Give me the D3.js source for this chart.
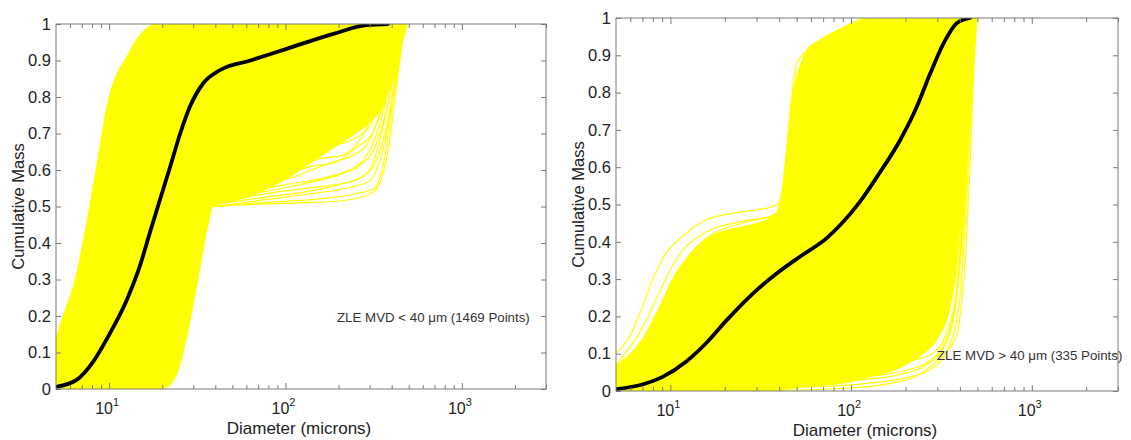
<!DOCTYPE html>
<html>
<head>
<meta charset="utf-8">
<script src="https://cdn.jsdelivr.net/npm/d3@7"></script>
<style>
  body { margin: 0; background: #fff; }
  svg { font-family: "Liberation Sans", Arial, sans-serif; }
</style>
</head>
<body>
<svg id="chart" width="1131" height="440"></svg>
<script>
// ---- data ----
// left panel: ZLE MVD < 40 um
const leftEnvDiam = [5, 5.5, 6.5, 7.5, 8.5, 10, 11, 12.6, 14, 15.6, 18.7, 20, 22, 25, 28, 32.7, 36, 38.8, 40, 46, 60, 80, 100, 150, 200, 250, 300, 340, 380, 420, 460, 490];
const leftEnvLow  = [0, 0, 0, 0, 0, 0, 0, 0, 0, 0, 0, 0, 0.01, 0.06, 0.16, 0.33, 0.44, 0.5, 0.503, 0.51, 0.525, 0.55, 0.575, 0.63, 0.67, 0.7, 0.73, 0.76, 0.81, 0.88, 0.95, 1];
const leftEnvHigh = [0.14, 0.2, 0.31, 0.46, 0.61, 0.8, 0.86, 0.91, 0.95, 0.98, 1, 1, 1, 1, 1, 1, 1, 1, 1, 1, 1, 1, 1, 1, 1, 1, 1, 1, 1, 1, 1, 1];

const leftCurves = [
  [[38,0.5],[60,0.505],[120,0.51],[200,0.515],[290,0.53],[340,0.56],[380,0.65],[420,0.8],[460,0.95],[490,1]],
  [[38,0.5],[70,0.51],[150,0.52],[250,0.535],[320,0.55],[360,0.62],[410,0.8],[450,0.93],[480,1]],
  [[40,0.5],[80,0.52],[140,0.535],[220,0.55],[300,0.57],[350,0.64],[400,0.78],[450,0.94],[480,1]],
  [[40,0.505],[75,0.525],[130,0.54],[200,0.56],[270,0.58],[330,0.63],[390,0.76],[450,0.95],[485,1]],
  [[40,0.51],[90,0.54],[160,0.555],[240,0.57],[300,0.6],[350,0.7],[420,0.88],[470,1]],
  [[42,0.52],[100,0.56],[170,0.58],[230,0.6],[280,0.63],[340,0.72],[400,0.86],[460,1]],
  [[44,0.52],[95,0.55],[150,0.57],[210,0.59],[260,0.61],[320,0.66],[380,0.78],[440,0.94],[475,1]],
  [[45,0.53],[110,0.58],[180,0.62],[240,0.64],[290,0.67],[350,0.77],[420,0.92],[470,1]],
  [[48,0.54],[100,0.6],[150,0.63],[210,0.64],[270,0.69],[330,0.78],[400,0.9],[460,1]],
  [[50,0.55],[120,0.62],[170,0.66],[230,0.68],[300,0.72],[360,0.82],[440,0.97],[470,1]],
  [[52,0.55],[90,0.58],[140,0.61],[190,0.62],[250,0.66],[310,0.7],[370,0.8],[430,0.93],[465,1]],
  [[55,0.56],[130,0.64],[200,0.68],[260,0.72],[320,0.77],[380,0.86],[450,1]],
  [[60,0.58],[110,0.63],[180,0.7],[250,0.74],[310,0.79],[370,0.88],[440,1]],
  [[70,0.6],[140,0.66],[220,0.72],[280,0.76],[340,0.82],[400,0.92],[450,1]],
  [[80,0.62],[160,0.7],[230,0.75],[300,0.8],[360,0.87],[430,1]]
];

const leftMeanDiam = [5, 6.55, 8.13, 10.1, 12.6, 14.9, 17.0, 19.4, 22.2, 25.3, 28.7, 34.1, 42.6, 63.2, 101.5, 187, 287, 381];
const leftMeanMass = [0.006, 0.025, 0.075, 0.152, 0.244, 0.335, 0.427, 0.518, 0.609, 0.70, 0.773, 0.837, 0.874, 0.90, 0.932, 0.973, 0.997, 1.0];

// right panel: ZLE MVD > 40 um
const rightEnvDiam = [5, 6, 7, 8, 9, 10, 12, 15, 20, 25, 30, 37, 40, 42, 44, 47, 52, 57, 67, 87, 111, 130, 160, 200, 250, 300, 350, 400, 440, 470, 496];
const rightEnvLow  = [0, 0, 0, 0, 0, 0, 0, 0, 0, 0, 0, 0.002, 0.003, 0.004, 0.005, 0.007, 0.01, 0.012, 0.015, 0.02, 0.03, 0.04, 0.05, 0.07, 0.1, 0.14, 0.22, 0.45, 0.75, 0.93, 1];
const rightEnvHigh = [0.07, 0.1, 0.14, 0.19, 0.24, 0.29, 0.35, 0.4, 0.43, 0.44, 0.45, 0.47, 0.49, 0.55, 0.65, 0.78, 0.87, 0.91, 0.94, 0.97, 0.99, 1, 1, 1, 1, 1, 1, 1, 1, 1, 1];

const rightCurvesLow = [
  [[5,0],[40,0.002],[100,0.008],[164,0.02],[230,0.04],[274,0.065],[330,0.1],[384,0.15],[420,0.3],[437,0.42],[455,0.6],[470,0.78],[485,0.92],[496,1]],
  [[10,0],[50,0.01],[120,0.02],[200,0.035],[280,0.06],[350,0.12],[400,0.25],[440,0.55],[470,0.85],[490,1]],
  [[15,0],[60,0.02],[130,0.04],[200,0.055],[270,0.08],[330,0.13],[380,0.25],[420,0.5],[460,0.85],[485,1]],
  [[8,0],[45,0.012],[110,0.03],[190,0.045],[260,0.07],[320,0.11],[370,0.2],[415,0.42],[455,0.75],[488,1]],
  [[20,0.005],[70,0.03],[140,0.06],[210,0.08],[280,0.1],[340,0.16],[390,0.3],[430,0.55],[470,0.9],[490,1]],
  [[25,0.01],[80,0.04],[150,0.07],[220,0.1],[290,0.14],[350,0.22],[400,0.4],[450,0.75],[480,1]],
  [[20,0.01],[60,0.04],[120,0.08],[180,0.1],[250,0.12],[310,0.16],[360,0.27],[410,0.5],[450,0.8],[480,1]],
  [[15,0.01],[50,0.04],[100,0.09],[170,0.12],[240,0.15],[300,0.2],[350,0.3],[400,0.55],[440,0.82],[475,1]],
  [[30,0.02],[90,0.06],[160,0.1],[230,0.14],[300,0.18],[360,0.28],[420,0.55],[460,0.86],[485,1]],
  [[12,0.005],[40,0.03],[90,0.07],[140,0.11],[200,0.15],[270,0.2],[330,0.28],[390,0.45],[440,0.75],[480,1]],
  [[35,0.03],[100,0.08],[170,0.13],[250,0.18],[320,0.25],[380,0.38],[430,0.65],[470,0.95],[490,1]]
];

const rightCurvesHigh = [
  [[5,0.1],[6,0.15],[7,0.226],[8,0.3],[9.2,0.36],[12,0.42],[16,0.46],[25,0.48],[37,0.495],[40,0.505],[44,0.6],[52,0.78],[57,0.915],[67,0.94],[87,0.97],[111,0.995],[130,1]],
  [[5,0.07],[7,0.17],[9,0.28],[11,0.36],[15,0.42],[25,0.455],[38,0.47],[42,0.55],[47,0.72],[55,0.9],[80,0.95],[120,1]],
  [[5,0.05],[8,0.15],[10,0.24],[13,0.33],[18,0.4],[30,0.44],[40,0.47],[44,0.58],[48,0.75],[60,0.9],[100,0.97],[150,1]],
  [[5,0.04],[8,0.12],[12,0.25],[16,0.33],[25,0.4],[38,0.44],[42,0.5],[45,0.6],[55,0.85],[80,0.92],[160,1]],
  [[5,0.03],[9,0.12],[13,0.27],[17,0.37],[22,0.41],[35,0.44],[42,0.5],[50,0.8],[70,0.9],[130,0.98],[200,1]],
  [[5,0.06],[7,0.13],[10,0.27],[13,0.37],[17,0.42],[25,0.45],[40,0.48],[43,0.6],[50,0.88],[65,0.93],[100,0.98],[140,1]],
  [[6,0.05],[9,0.18],[12,0.3],[15,0.36],[20,0.4],[30,0.43],[40,0.46],[46,0.7],[53,0.86],[75,0.93],[120,0.99],[170,1]]
];

const rightMeanDiam = [5.04, 7.08, 9.06, 12.3, 15.9, 20.5, 28.7, 38.7, 52.0, 73.3, 87.1, 111, 143, 187, 231, 274, 325, 384, 455];
const rightMeanMass = [0.005, 0.018, 0.038, 0.08, 0.13, 0.19, 0.262, 0.315, 0.36, 0.41, 0.445, 0.505, 0.583, 0.673, 0.762, 0.851, 0.932, 0.986, 1.0];

// axes
const xDomain = [5, 3000];
const xMajor = [10, 100, 1000];
const xMinor = [6, 7, 8, 9, 20, 30, 40, 50, 60, 70, 80, 90, 200, 300, 400, 500, 600, 700, 800, 900, 2000, 3000];
const yTicks = [0, 0.1, 0.2, 0.3, 0.4, 0.5, 0.6, 0.7, 0.8, 0.9, 1];

const xTitle = "Diameter (microns)";
const yTitle = "Cumulative Mass";
const leftNote = "ZLE MVD < 40 \u03bcm (1469 Points)";
const rightNote = "ZLE MVD > 40 \u03bcm (335 Points)";

const yellow = "#ffff00";
const frameColor = "#7a7a7a";
const textColor = "#222";

const svg = d3.select("#chart");

function drawPanel(p, idx) {
  const x = d3.scaleLog().domain(xDomain).range([0, p.width]);
  const y = d3.scaleLinear().domain([0, 1]).range([p.height, 0]);

  const g = svg.append("g").attr("transform", "translate(" + p.left + "," + p.top + ")");

  g.append("clipPath").attr("id", "clip" + idx)
    .append("rect").attr("width", p.width).attr("height", p.height);

  const plot = g.append("g").attr("clip-path", "url(#clip" + idx + ")");

  // dense band of curves
  const env = p.envDiam.map((d, i) => ({d: d, lo: p.envLow[i], hi: p.envHigh[i]}));
  const area = d3.area()
    .x(d => x(d.d))
    .y0(d => y(d.lo))
    .y1(d => y(d.hi))
    .curve(d3.curveMonotoneX);
  plot.append("path")
    .datum(env)
    .attr("d", area)
    .attr("fill", yellow)
    .attr("stroke", yellow)
    .attr("stroke-width", 1);

  const line = d3.line()
    .x(d => x(d[0]))
    .y(d => y(d[1]))
    .curve(d3.curveMonotoneX);

  plot.selectAll(".curve")
    .data(p.curves)
    .enter().append("path")
    .attr("class", "curve")
    .attr("d", line)
    .attr("fill", "none")
    .attr("stroke", yellow)
    .attr("stroke-width", 1.2);

  // mean curve
  const mean = p.meanDiam.map((d, i) => [d, p.meanMass[i]]);
  plot.append("path")
    .datum(mean)
    .attr("d", line)
    .attr("fill", "none")
    .attr("stroke", "#000")
    .attr("stroke-width", 3.8)
    .attr("stroke-linecap", "round");

  // ticks (inward, MATLAB style)
  g.append("g").attr("transform", "translate(0," + p.height + ")")
    .call(d3.axisBottom(x).tickValues(xMinor).tickSize(-4).tickSizeOuter(0).tickFormat(""));
  g.append("g").attr("transform", "translate(0," + p.height + ")")
    .call(d3.axisBottom(x).tickValues(xMajor).tickSize(-6).tickSizeOuter(0).tickFormat(""));
  g.append("g").call(d3.axisTop(x).tickValues(xMinor).tickSize(-4).tickSizeOuter(0).tickFormat(""));
  g.append("g").call(d3.axisTop(x).tickValues(xMajor).tickSize(-6).tickSizeOuter(0).tickFormat(""));

  g.append("g")
    .call(d3.axisLeft(y).tickValues(yTicks).tickSize(-5).tickSizeOuter(0).tickPadding(5)
      .tickFormat(d3.format(".1~f")));
  g.append("g").attr("transform", "translate(" + p.width + ",0)")
    .call(d3.axisRight(y).tickValues(yTicks).tickSize(-5).tickSizeOuter(0).tickFormat(""));

  g.selectAll(".domain").remove();
  g.selectAll(".tick line").attr("stroke", frameColor);
  g.selectAll(".tick text")
    .attr("fill", textColor)
    .attr("font-size", 16.5)
    .attr("font-family", "Liberation Sans, Arial, sans-serif");

  g.append("rect")
    .attr("width", p.width)
    .attr("height", p.height)
    .attr("fill", "none")
    .attr("stroke", frameColor)
    .attr("stroke-width", 1);

  // 10^n labels
  const lab = g.selectAll(".xlab")
    .data(xMajor)
    .enter().append("text")
    .attr("class", "xlab")
    .attr("x", d => x(d) - 2)
    .attr("y", p.height + 25)
    .attr("text-anchor", "middle")
    .attr("fill", textColor)
    .attr("font-size", 16);
  lab.append("tspan").text("10");
  lab.append("tspan")
    .attr("dy", -8)
    .attr("font-size", 11)
    .text(d => Math.round(Math.log10(d)));

  g.append("text")
    .attr("x", p.width / 2 - 2)
    .attr("y", p.height + 45)
    .attr("text-anchor", "middle")
    .attr("fill", textColor)
    .attr("font-size", 17)
    .text(xTitle);

  g.append("text")
    .attr("transform", "translate(" + (-32) + "," + (p.height / 2) + ") rotate(-90)")
    .attr("text-anchor", "middle")
    .attr("fill", textColor)
    .attr("font-size", 16.5)
    .text(yTitle);

  g.append("text")
    .attr("x", p.noteX)
    .attr("y", p.noteY)
    .attr("fill", "#333")
    .attr("font-size", 13.3)
    .text(p.note);
}

const panels = [
  {left: 56, top: 24, width: 490, height: 365,
   envDiam: leftEnvDiam, envLow: leftEnvLow, envHigh: leftEnvHigh,
   curves: leftCurves, meanDiam: leftMeanDiam, meanMass: leftMeanMass,
   note: leftNote, noteX: 281, noteY: 298},
  {left: 616, top: 18, width: 502, height: 373,
   envDiam: rightEnvDiam, envLow: rightEnvLow, envHigh: rightEnvHigh,
   curves: rightCurvesLow.concat(rightCurvesHigh), meanDiam: rightMeanDiam, meanMass: rightMeanMass,
   note: rightNote, noteX: 321, noteY: 342}
];

panels.forEach(drawPanel);
</script>
</body>
</html>
